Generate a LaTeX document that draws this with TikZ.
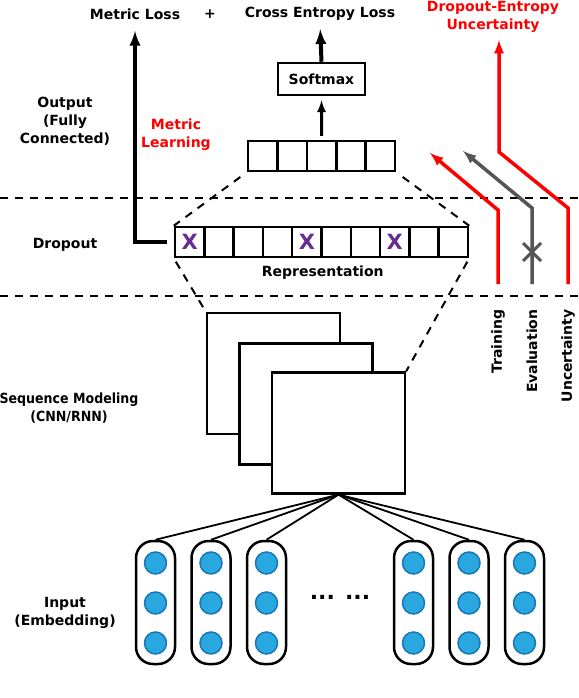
\documentclass[tikz,border=0pt]{standalone}
\usepackage{fontspec}
\setmainfont{DejaVu Sans}
\newfontfamily\seqfont[FakeStretch=0.9]{DejaVu Sans}
\usetikzlibrary{positioning}
\definecolor{unitfill}{RGB}{41,168,224}
\definecolor{unitedge}{RGB}{27,117,187}
\definecolor{dropcol}{RGB}{102,45,145}
\definecolor{evalgray}{RGB}{85,85,85}

\begin{document}
\begin{tikzpicture}[x=1pt,y=-1pt,
	lbl/.style={font=\fontsize{14}{18}\selectfont\bfseries,align=center},
	cell/.style={draw,line width=2.5pt,minimum width=29.3pt,minimum height=30pt,inner sep=0pt},
	layer/.style={dash pattern=on 8pt off 7pt,line width=2pt},
	stack/.style={draw,fill=white,line width=2.3pt,minimum width=133pt,minimum height=121pt,inner sep=0pt},
	embbox/.style={draw,line width=2.5pt,rounded corners=17pt,minimum width=39pt,minimum height=123pt,inner sep=0pt},
	unit/.style={circle,draw=unitedge,fill=unitfill,line width=1.5pt,minimum size=22pt,inner sep=0pt},
	dropx/.style={font=\fontsize{21}{21}\selectfont\bfseries,text=dropcol},
	bigarrow/.style={line width=4pt,-latex},
	path/.style={line width=3.5pt,-latex}]
	\useasboundingbox (0,0) rectangle (578,698);

	% layer labels on the left
	\node[lbl] (outl) at (65,121) {Output\\(Fully\\Connected)};
	\node[lbl] (dropl) at (65,245) {Dropout};
	\node[lbl,font=\seqfont\fontsize{14}{18}\selectfont\bfseries] (seql) at (69,408) {Sequence Modeling\\(CNN/RNN)};
	\node[lbl] (inl) at (65,613) {Input\\(Embedding)};

	% losses
	\node[lbl] (mloss) at (135,14) {Metric Loss};
	\node[lbl] (plus) at (210,14) {+};
	\node[lbl] (celoss) at (320,14) {Cross Entropy Loss};
	\node[lbl,text=red] (unc) at (493,17) {Dropout-Entropy\\Uncertainty};
	\node[lbl,text=red] (mlearn) at (176,135) {Metric\\Learning};

	% layer separators
	\draw[layer] (0,198) -- (578,198);
	\draw[layer] (0,296) -- (578,296);

	% fully connected output
	\foreach \i in {1,...,5}
		\node[cell] (fc\i) at (233.3+29.4*\i,156) {};
	\node[draw,line width=2.5pt,minimum width=87pt,minimum height=32pt,lbl] (sm) at (321.5,79) {Softmax};
	\draw[line width=3pt,-latex,shorten <=4pt,shorten >=4pt] (fc3.north) -- (sm.south);
	\draw[bigarrow,shorten >=5pt] (sm.north) -- (celoss.south);

	% dropout representation
	\foreach \i in {1,...,10}
		\node[cell] (dr\i) at (160.35+29.3*\i,242) {};
	\foreach \i in {1,5,8}
		\node[dropx] at (dr\i) {X};
	\node[lbl,below=4pt of dr5.south east] (rep) {Representation};
	\draw[bigarrow,shorten <=7pt,shorten >=8pt] (dr1.west) -| (mloss.south);

	% sequence modeling
	\node[stack] (s1) at (273.5,373.5) {};
	\node[stack] (s2) at (306,404) {};
	\node[stack] (s3) at (338.5,433) {};

	% dashed projections
	\draw[layer,shorten <=8pt] (fc1.south west) -- (dr1.north west);
	\draw[layer,shorten <=8pt] (fc5.south east) -- (dr10.north east);
	\draw[layer,shorten <=4pt] (dr1.south west) -- (s1.north west);
	\draw[layer,shorten <=4pt] (dr10.south east) -- (s3.north east);

	% embeddings
	\foreach \x [count=\i] in {155.5,211,266.5,413.5,469,524.5} {
		\node[embbox] (e\i) at (\x,602.5) {};
		\node[unit] (u\i a) at (\x,563) {};
		\node[unit] (u\i b) at (\x,603) {};
		\node[unit] (u\i c) at (\x,643) {};
		\draw[line width=1.8pt] (s3.south) -- (e\i.north);
	}
	\node[lbl,font=\fontsize{22}{22}\selectfont\bfseries] (dots) at (340,597) {... ...};

	% training / evaluation / uncertainty paths
	\coordinate (tr0) at (498,284);
	\coordinate (tr1) at (498,210);
	\coordinate (tr2) at (430,153);
	\coordinate (ev0) at (532,284);
	\coordinate (ev1) at (532,208);
	\coordinate (ev2) at (463,151);
	\coordinate (un0) at (568,284);
	\coordinate (un1) at (568,208);
	\coordinate (un2) at (499,152);
	\coordinate (un3) at (499,40);
	\draw[path,red] (tr0) -- (tr1) -- (tr2);
	\draw[path,evalgray] (ev0) -- (ev1) -- (ev2);
	\draw[path,red] (un0) -- (un1) -- (un2) -- (un3);
	\draw[evalgray,line width=3pt] (523,243) -- (541,261) (541,243) -- (523,261);
	\node[lbl,rotate=90,anchor=east] (trl) at (498,306) {Training};
	\node[lbl,rotate=90,anchor=east] (evl) at (532,306) {Evaluation};
	\node[lbl,rotate=90,anchor=east] (unl) at (568,306) {Uncertainty};
\end{tikzpicture}
\end{document}
